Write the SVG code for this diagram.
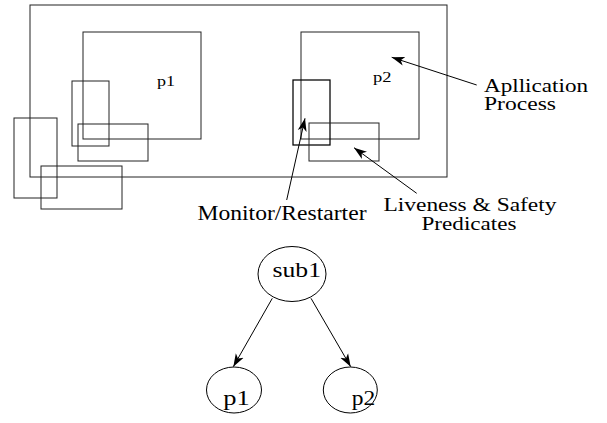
<svg xmlns="http://www.w3.org/2000/svg" width="607" height="423" viewBox="0 0 607 423">
<style>
.b{fill:none;stroke:#222;stroke-width:1}
.m{fill:none;stroke:#000;stroke-width:1.25}
.c{fill:none;stroke:#000;stroke-width:1}
.t{font-family:"Liberation Serif","Times New Roman",serif;fill:#000}
.l{fill:none;stroke:#000;stroke-width:1;marker-end:url(#ah)}
</style>
<defs>
<marker id="ah" markerUnits="userSpaceOnUse" markerWidth="14" markerHeight="10" refX="13" refY="5" orient="auto" viewBox="0 0 14 10">
<path d="M0,0.5 L13,5 L0,9.5 L3.5,5 z" fill="#000"/>
</marker>
</defs>
<g id="system">
<rect class="b" x="30" y="5" width="417" height="172"/>
</g>
<g id="p1-box">
<rect class="b" x="83" y="32" width="118" height="107"/>
<text class="t" x="157" y="86" font-size="15" textLength="18" lengthAdjust="spacingAndGlyphs">p1</text>
</g>
<g id="p1-monitor"><rect class="b" x="72" y="81" width="37" height="65"/></g>
<g id="p1-predicates"><rect class="b" x="78" y="124" width="70" height="37"/></g>
<g id="sys-monitor"><rect class="b" x="14" y="118" width="43" height="80"/></g>
<g id="sys-predicates"><rect class="b" x="41" y="166" width="81" height="43"/></g>
<g id="p2-box">
<rect class="b" x="301" y="32" width="118" height="107"/>
<text class="t" x="373" y="82" font-size="15" textLength="18.5" lengthAdjust="spacingAndGlyphs">p2</text>
</g>
<g id="p2-monitor"><rect class="m" x="293" y="80" width="37" height="65"/></g>
<g id="p2-predicates"><rect class="b" x="309" y="123" width="70" height="38"/></g>
<g id="labels">
<text class="t" x="484" y="91.5" font-size="18" textLength="104" lengthAdjust="spacingAndGlyphs">Apllication</text>
<text class="t" x="484" y="110" font-size="18" textLength="72" lengthAdjust="spacingAndGlyphs">Process</text>
<text class="t" x="383.5" y="211" font-size="18" textLength="173" lengthAdjust="spacingAndGlyphs">Liveness &amp; Safety</text>
<text class="t" x="421.5" y="229.5" font-size="18" textLength="95" lengthAdjust="spacingAndGlyphs">Predicates</text>
<text class="t" x="197.5" y="220" font-size="20" textLength="169" lengthAdjust="spacingAndGlyphs">Monitor/Restarter</text>
</g>
<g id="sub1">
<ellipse class="c" cx="292" cy="274" rx="34" ry="27.5"/>
<text class="t" x="272.5" y="276.5" font-size="20" textLength="48.5" lengthAdjust="spacingAndGlyphs">sub1</text>
</g>
<g id="p1">
<ellipse class="c" cx="234" cy="390" rx="27.5" ry="23"/>
<text class="t" x="223.3" y="405" font-size="20" textLength="26.5" lengthAdjust="spacingAndGlyphs">p1</text>
</g>
<g id="p2">
<ellipse class="c" cx="350.3" cy="390" rx="27" ry="23"/>
<text class="t" x="351.7" y="405" font-size="20" textLength="23.5" lengthAdjust="spacingAndGlyphs">p2</text>
</g>
<g id="connectors">
<line class="l" x1="476.7" y1="85" x2="391.7" y2="57.3"/>
<line class="l" x1="416.7" y1="193.3" x2="354" y2="147.7"/>
<line class="l" x1="286.7" y1="200" x2="305" y2="118.3"/>
<line class="l" x1="272.3" y1="298.3" x2="233.3" y2="366.7"/>
<line class="l" x1="311" y1="298.3" x2="350.7" y2="366.7"/>
</g>
</svg>
